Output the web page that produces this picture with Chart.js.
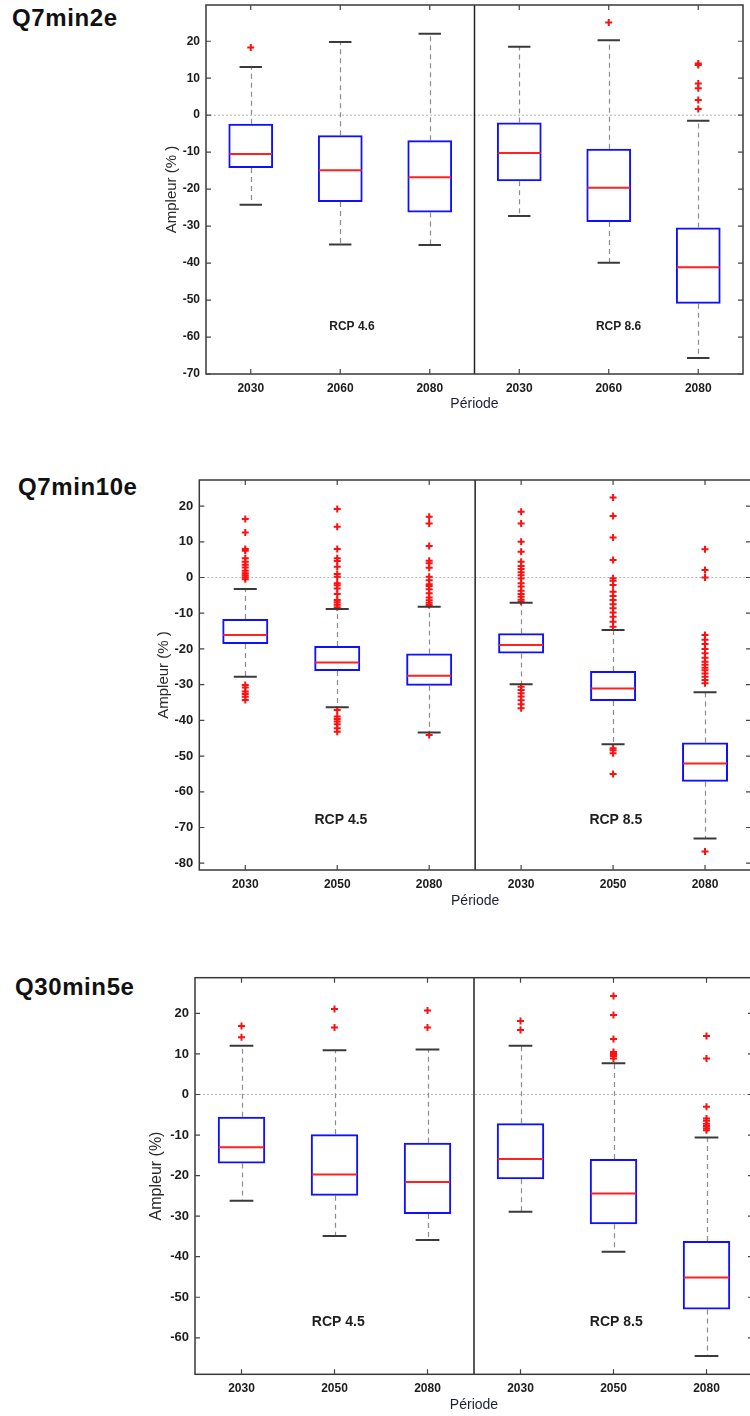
<!DOCTYPE html>
<html><head><meta charset="utf-8">
<script src="https://cdn.jsdelivr.net/npm/chart.js@4"></script>
<style>
html,body{margin:0;padding:0;background:#fff;width:750px;height:1416px;overflow:hidden;position:relative}
.ttl{position:absolute;font-family:'Liberation Sans',Arial,sans-serif;font-weight:bold;font-size:24px;letter-spacing:0.6px;line-height:24px;color:#111;white-space:nowrap}
canvas{position:absolute;left:0}
</style></head><body>
<div class="ttl" style="left:12px;top:6px">Q7min2e</div>
<div class="ttl" style="left:18px;top:475px">Q7min10e</div>
<div class="ttl" style="left:15px;top:975px">Q30min5e</div>
<canvas id="c1" width="760" height="437" style="top:-20px;width:760px;height:437px"></canvas>
<canvas id="c2" width="760" height="474" style="top:440px;width:760px;height:474px"></canvas>
<canvas id="c3" width="760" height="478" style="top:940px;width:760px;height:478px"></canvas>
<script>
// ---------- DATA ----------
const labels1 = ['2030','2060','2080','2030','2060','2080'];
const labels2 = ['2030','2050','2080','2030','2050','2080'];
const labels3 = ['2030','2050','2080','2030','2050','2080'];
const scenarioLabels1 = ['RCP 4.6','RCP 8.6'];
const scenarioLabels2 = ['RCP 4.5','RCP 8.5'];
const scenarioLabels3 = ['RCP 4.5','RCP 8.5'];
const yTicks1 = [20,10,0,-10,-20,-30,-40,-50,-60,-70];
const yTicks2 = [20,10,0,-10,-20,-30,-40,-50,-60,-70,-80];
const yTicks3 = [20,10,0,-10,-20,-30,-40,-50,-60];

// Q7min2e
const lower1  = [-24.2, -35.0, -35.1, -27.3, -39.9, -65.7];
const q1_1    = [-14.3, -23.5, -26.3, -17.9, -28.9, -51.0];
const median1 = [-10.5, -14.9, -16.8, -10.2, -19.6, -41.1];
const q3_1    = [-2.3, -5.4, -6.8, -2.0, -9.1, -30.4];
const upper1  = [13.0, 19.8, 22.0, 18.5, 20.3, -1.5];
const outliers1 = [[18.3], [], [], [], [25.1], [14.0, 13.6, 8.6, 7.3, 4.1, 1.7]];

// Q7min10e
const lower2  = [-27.8, -36.3, -43.4, -29.9, -46.7, -73.1];
const q1_2    = [-18.6, -26.2, -30.3, -21.3, -34.6, -57.2];
const median2 = [-16.1, -23.8, -27.5, -18.9, -31.1, -52.1];
const q3_2    = [-11.6, -19.2, -21.3, -15.6, -26.2, -46.2];
const upper2  = [-3.2, -8.8, -8.2, -7.1, -14.7, -32.1];
const outliers2 = [
  [16.4, 12.6, 8.0, 7.5, 5.4, 4.4, 3.6, 2.8, 1.9, 1.2, 0.6, 0.1, -0.5, -30.1, -30.8, -31.9, -32.6, -33.4, -34.3],
  [19.2, 14.2, 8.0, 5.4, 4.6, 3.0, 1.0, 0.2, -1.6, -2.2, -3.1, -4.6, -6.3, -6.9, -7.6, -8.3, -37.1, -38.9, -39.6, -40.3, -41.1, -42.2, -43.2],
  [17.0, 15.1, 8.8, 4.7, 4.0, 2.7, 0.2, -0.8, -1.9, -2.4, -3.3, -4.4, -5.6, -6.4, -7.1, -7.7, -44.1],
  [18.4, 15.1, 10.0, 7.2, 4.4, 3.2, 2.4, 1.5, 0.6, -0.3, -1.6, -2.5, -3.7, -4.6, -5.4, -6.2, -6.8, -30.6, -31.5, -32.4, -33.3, -34.4, -35.5, -36.6],
  [22.4, 17.2, 11.2, 4.9, -0.2, -0.9, -2.1, -4.0, -5.2, -6.3, -7.5, -8.6, -9.8, -11.0, -12.4, -13.8, -47.8, -48.4, -49.2, -55.0],
  [7.9, 2.1, 0.0, -16.1, -17.4, -18.6, -20.0, -21.2, -22.5, -23.6, -24.4, -25.3, -26.0, -26.9, -27.8, -28.7, -29.6, -76.7]
];

// Q30min5e
const lower3  = [-26.2, -34.9, -35.9, -28.9, -38.8, -64.5];
const q1_3    = [-17.0, -25.0, -29.5, -20.9, -32.0, -53.0];
const median3 = [-13.0, -19.7, -21.6, -15.9, -24.4, -45.1];
const q3_3    = [-5.5, -9.8, -11.9, -7.1, -15.9, -36.1];
const upper3  = [12.0, 10.9, 11.1, 12.0, 7.7, -10.6];
const outliers3 = [[16.9, 14.1], [21.1, 16.5], [20.7, 16.5], [18.1, 15.9],
  [24.3, 19.6, 13.7, 10.5, 10.0, 9.5, 8.9],
  [14.4, 8.9, -3.0, -5.9, -6.5, -7.2, -7.8, -8.3, -8.8]];

// ---------- DRAWING ----------
Chart.defaults.font.family = "'Liberation Sans', Arial, sans-serif";

const boxExtras = {
  id: 'boxExtras',
  beforeDatasetsDraw(chart, args, o) {
    const {ctx, chartArea: a, scales: {x, y}} = chart;
    ctx.save();
    const y0 = y.getPixelForValue(0);
    ctx.strokeStyle = '#b4b4b4'; ctx.lineWidth = 1; ctx.setLineDash([2, 2]);
    ctx.beginPath(); ctx.moveTo(a.left, y0); ctx.lineTo(a.right, y0); ctx.stroke();
    ctx.strokeStyle = '#8c8c8c'; ctx.setLineDash([5, 4]); ctx.lineWidth = 1.2;
    o.q1.forEach((_, i) => {
      const px = Math.round(x.getPixelForValue(i)) + 0.5;
      ctx.beginPath();
      ctx.moveTo(px, y.getPixelForValue(o.q3[i])); ctx.lineTo(px, y.getPixelForValue(o.upper[i]));
      ctx.moveTo(px, y.getPixelForValue(o.q1[i])); ctx.lineTo(px, y.getPixelForValue(o.lower[i]));
      ctx.stroke();
    });
    ctx.restore();
  },
  afterDatasetsDraw(chart, args, o) {
    const {ctx, chartArea: a, scales: {x, y}} = chart;
    const meta = chart.getDatasetMeta(0);
    ctx.save();
    ctx.setLineDash([]);
    o.q1.forEach((_, i) => {
      const px = x.getPixelForValue(i);
      const w = meta.data[i].width;
      // caps
      ctx.strokeStyle = '#3a3a3a'; ctx.lineWidth = 2;
      ctx.beginPath();
      [o.upper[i], o.lower[i]].forEach(v => {
        const py = y.getPixelForValue(v);
        ctx.moveTo(px - w / 4, py); ctx.lineTo(px + w / 4, py);
      });
      ctx.stroke();
      // median
      ctx.strokeStyle = '#ff2020'; ctx.lineWidth = 2;
      const pm = y.getPixelForValue(o.median[i]);
      ctx.beginPath(); ctx.moveTo(px - w / 2 + 1, pm); ctx.lineTo(px + w / 2 - 1, pm); ctx.stroke();
    });
    // divider between scenarios
    const dx = x.getPixelForValue(2.5);
    ctx.strokeStyle = '#222'; ctx.lineWidth = 1.5;
    ctx.beginPath(); ctx.moveTo(dx, a.top); ctx.lineTo(dx, a.bottom); ctx.stroke();
    // frame
    ctx.strokeStyle = '#3a3a3a'; ctx.lineWidth = 1.5;
    ctx.strokeRect(a.left, a.top, a.right - a.left, a.bottom - a.top);
    // inward ticks
    ctx.strokeStyle = '#444'; ctx.lineWidth = 1.2;
    ctx.beginPath();
    y.ticks.forEach(t => {
      const py = y.getPixelForValue(t.value);
      ctx.moveTo(a.left, py); ctx.lineTo(a.left + 5, py);
      ctx.moveTo(a.right, py); ctx.lineTo(a.right - 5, py);
    });
    x.ticks.forEach(t => {
      const px = x.getPixelForValue(t.value);
      ctx.moveTo(px, a.bottom); ctx.lineTo(px, a.bottom - 5);
      ctx.moveTo(px, a.top); ctx.lineTo(px, a.top + 5);
    });
    ctx.stroke();
    // scenario labels
    ctx.fillStyle = '#1e1e1e';
    ctx.font = o.rcpFont;
    ctx.textAlign = 'center'; ctx.textBaseline = 'middle';
    o.rcpText.forEach((t, k) => {
      ctx.fillText(t, x.getPixelForValue(o.rcpX[k]), y.getPixelForValue(o.rcpY));
    });
    ctx.restore();
  }
};

function makeChart(id, p) {
  const boxData = p.q1.map((v, i) => ({x: i, y: [v, p.q3[i]]}));
  const outData = p.outliers.flatMap((arr, i) => arr.map(v => ({x: i, y: v})));
  return new Chart(document.getElementById(id), {
    type: 'bar',
    data: {
      datasets: [
        {type: 'bar', data: boxData, backgroundColor: 'rgba(0,0,0,0)', borderColor: '#1010ff',
         borderWidth: 2, borderSkipped: false, barPercentage: p.barPct, categoryPercentage: 1, grouped: false},
        {type: 'scatter', data: outData, pointStyle: 'cross', pointRadius: 3.5, borderColor: '#ff1010',
         backgroundColor: '#ff1010', borderWidth: 2, showLine: false}
      ]
    },
    options: {
      responsive: false, animation: false, events: [],
      layout: {padding: {left: p.padL, right: p.padR, top: p.padT, bottom: 0}},
      plugins: {
        legend: {display: false}, tooltip: {enabled: false},
        boxExtras: {q1: p.q1, q3: p.q3, median: p.median, lower: p.lower, upper: p.upper,
          rcpText: p.rcpText, rcpX: p.rcpX, rcpY: p.rcpY, rcpFont: p.rcpFont}
      },
      scales: {
        x: {
          type: 'linear', min: -0.5, max: 5.5, offset: false,
          afterBuildTicks: s => { s.ticks = p.labels.map((_, i) => ({value: i})); },
          afterFit: s => { s.height = p.xh; },
          grid: {display: false, drawTicks: false}, border: {display: false},
          ticks: {padding: 7, autoSkip: false, maxRotation: 0, color: '#1c1c1c',
            font: {size: 12, weight: 'bold'}, callback: (v, i) => p.labels[i]},
          title: {display: true, text: 'Période', color: '#1d1d3a', font: {size: 14}, padding: {top: 4, bottom: 4}}
        },
        y: {
          type: 'linear', min: p.yMin, max: p.yMax,
          afterBuildTicks: s => { s.ticks = p.yTicks.map(v => ({value: v})); },
          afterFit: s => { s.width = p.yw; },
          grid: {display: false, drawTicks: false}, border: {display: false},
          ticks: {padding: 6, color: '#1c1c1c', font: {size: p.yTickSize, weight: 'bold'},
            callback: (v, i) => String(p.yTicks[i])},
          title: {display: true, text: p.yTitle, color: '#2a2a2a', font: {size: p.yTitleSize}, padding: {top: 4, bottom: 4}}
        }
      }
    },
    plugins: [boxExtras]
  });
}

makeChart('c1', {
  labels: labels1, lower: lower1, q1: q1_1, median: median1, q3: q3_1, upper: upper1, outliers: outliers1,
  yTicks: yTicks1, yMin: -70, yMax: 29.8, barPct: 0.5,
  padL: 158.5, padR: 17, padT: 25, xh: 43, yw: 47.5, yTickSize: 12,
  yTitle: 'Ampleur (% )', yTitleSize: 15,
  rcpText: scenarioLabels1, rcpX: [1.13, 4.11], rcpY: -57.2, rcpFont: "bold 12px 'Liberation Sans', Arial, sans-serif"
});
makeChart('c2', {
  labels: labels2, lower: lower2, q1: q1_2, median: median2, q3: q3_2, upper: upper2, outliers: outliers2,
  yTicks: yTicks2, yMin: -81.9, yMax: 27.3, barPct: 0.5,
  padL: 150.5, padR: 9, padT: 40, xh: 44, yw: 48.8, yTickSize: 13,
  yTitle: 'Ampleur (% )', yTitleSize: 15,
  rcpText: scenarioLabels2, rcpX: [1.04, 4.03], rcpY: -67.9, rcpFont: "bold 14px 'Liberation Sans', Arial, sans-serif"
});
makeChart('c3', {
  labels: labels3, lower: lower3, q1: q1_3, median: median3, q3: q3_3, upper: upper3, outliers: outliers3,
  yTicks: yTicks3, yMin: -69, yMax: 28.8, barPct: 0.51,
  padL: 143.4, padR: 7, padT: 37.7, xh: 43.7, yw: 51.6, yTickSize: 13,
  yTitle: 'Ampleur (%)', yTitleSize: 16,
  rcpText: scenarioLabels3, rcpX: [1.04, 4.03], rcpY: -56.1, rcpFont: "bold 14px 'Liberation Sans', Arial, sans-serif"
});
</script>
</body></html>
